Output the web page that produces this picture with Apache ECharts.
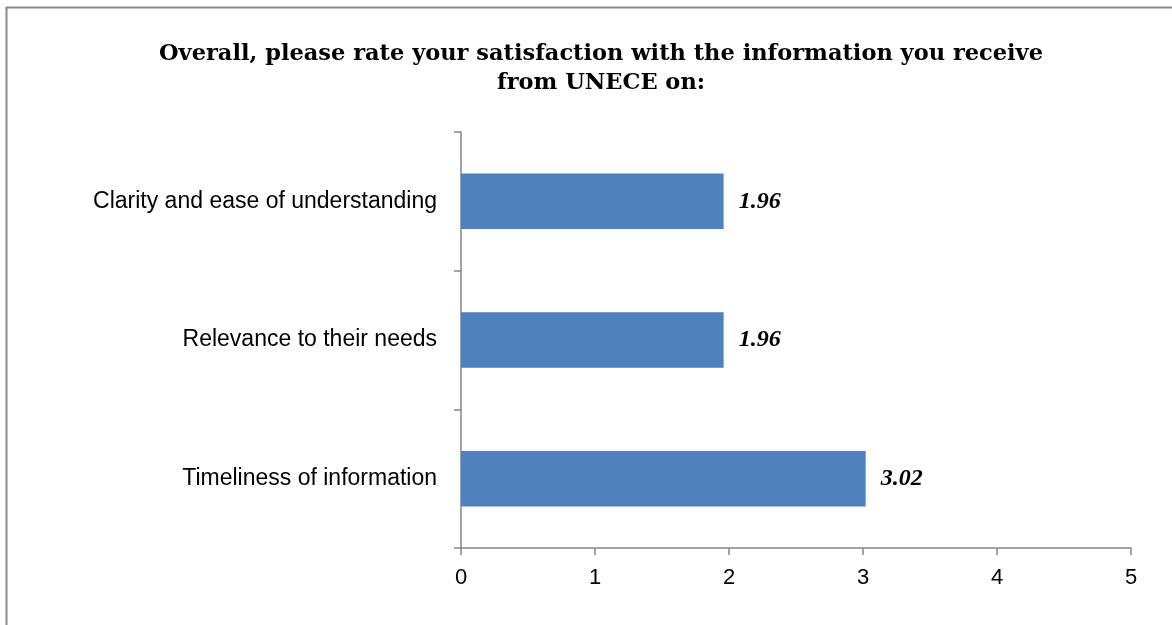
<!DOCTYPE html>
<html>
<head>
<meta charset="utf-8">
<script src="https://cdn.jsdelivr.net/npm/echarts@6/dist/echarts.min.js"></script>
<style>
  html, body { margin: 0; padding: 0; background: #fff; }
  #main { width: 1172px; height: 625px; }
</style>
</head>
<body>
<div id="main"></div>
<script>
var chart = echarts.init(document.getElementById('main'));

var titleText = 'Overall, please rate your satisfaction with the information you receive\nfrom UNECE on:';
// bottom to top, as drawn on a category y axis
var categories = ['Timeliness of information', 'Relevance to their needs', 'Clarity and ease of understanding'];
var scores = [3.02, 1.96, 1.96];
var xTicks = [0, 1, 2, 3, 4, 5];

var option = {
    backgroundColor: '#fff',
    animation: false,
    title: {
        text: titleText,
        left: 596,
        textAlign: 'center',
        top: 35,
        textStyle: {
            fontFamily: 'DejaVu Serif',
            fontWeight: 'bold',
            fontSize: 22.5,
            lineHeight: 29,
            color: '#000'
        }
    },
    graphic: [{
        type: 'rect',
        shape: { x: 6.5, y: 7.5, width: 1300, height: 800 },
        style: { fill: 'none', stroke: '#8a8a8a', lineWidth: 2 },
        silent: true
    }],
    grid: { left: 461, right: 41, top: 132, bottom: 77 },
    xAxis: {
        type: 'value',
        min: xTicks[0],
        max: xTicks[xTicks.length - 1],
        interval: 1,
        splitLine: { show: false },
        axisLine: { show: true, lineStyle: { color: '#868686', width: 1.5 } },
        axisTick: { show: true, length: 7, lineStyle: { color: '#868686', width: 1.5 } },
        axisLabel: { color: '#000', fontSize: 22, fontFamily: 'Liberation Sans', margin: 19 }
    },
    yAxis: {
        type: 'category',
        data: categories,
        axisLine: { lineStyle: { color: '#868686', width: 1.5 } },
        axisTick: { show: true, length: 7, lineStyle: { color: '#868686', width: 1.5 } },
        axisLabel: { color: '#000', fontSize: 23, fontFamily: 'Liberation Sans', margin: 24 }
    },
    series: [{
        type: 'bar',
        data: scores,
        barWidth: '40%',
        itemStyle: { color: '#4F81BD' },
        label: {
            show: true,
            position: 'right',
            distance: 15,
            color: '#000',
            fontFamily: 'Liberation Serif',
            fontWeight: 'bold',
            fontStyle: 'italic',
            fontSize: 24,
            formatter: function (p) { return p.value.toFixed(2); }
        }
    }]
};
chart.setOption(option);
</script>
</body>
</html>
